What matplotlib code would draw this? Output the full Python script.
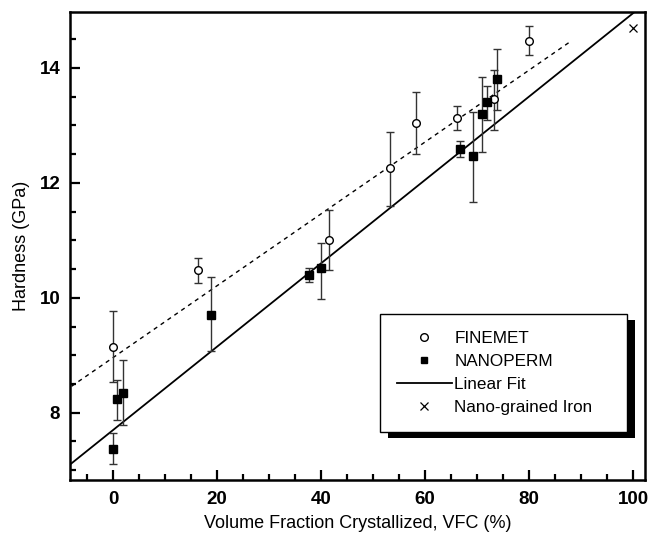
import matplotlib
matplotlib.use("Agg")
import matplotlib.pyplot as plt
import matplotlib.patheffects as pe
from matplotlib.ticker import MultipleLocator

plt.rcParams["font.family"] = ["Liberation Sans", "DejaVu Sans"]

# FINEMET (open circles): VFC %, hardness, error bar low / high
fin_x = [0, 16.3, 41.5, 53.3, 58.2, 66.1, 73.3, 79.9]
fin_y = [9.15, 10.49, 11.0, 12.26, 13.04, 13.12, 13.46, 14.47]
fin_lo = [8.53, 10.26, 10.49, 11.60, 12.50, 12.92, 12.92, 14.23]
fin_hi = [9.77, 10.70, 11.52, 12.89, 13.58, 13.33, 13.97, 14.72]

# NANOPERM (filled squares)
nano_x = [0, 0.7, 1.9, 18.8, 37.6, 40.0, 66.7, 69.2, 71.0, 72.0, 73.8]
nano_y = [7.37, 8.24, 8.35, 9.70, 10.40, 10.52, 12.59, 12.47, 13.19, 13.40, 13.80]
nano_lo = [7.11, 7.88, 7.79, 9.08, 10.27, 9.98, 12.45, 11.67, 12.54, 13.10, 13.27]
nano_hi = [7.65, 8.57, 8.91, 10.36, 10.52, 10.95, 12.72, 13.24, 13.84, 13.69, 14.33]

# nano-grained iron
iron_x = [100]
iron_y = [14.69]

# linear fits (slope, intercept) and their x ranges
fit_all = (0.0725, 7.70)
fit_all_range = (-8.5, 102)
fit_fin = (0.0625, 8.96)
fit_fin_range = (-8.0, 88.0)


def err(y, lo, hi):
    return [[a - b for a, b in zip(y, lo)], [c - a for a, c in zip(y, hi)]]


fig = plt.figure(figsize=(6.51, 5.36), dpi=100)
ax = fig.add_axes([0.1075, 0.1045, 0.8833, 0.873])

# fit lines
xs = list(fit_fin_range)
ax.plot(xs, [fit_fin[0] * x + fit_fin[1] for x in xs], color="black",
        lw=1.0, ls=(0, (3, 3)), zorder=2)
xs = list(fit_all_range)
ax.plot(xs, [fit_all[0] * x + fit_all[1] for x in xs], color="black",
        lw=1.3, zorder=2)

ax.errorbar(fin_x, fin_y, yerr=err(fin_y, fin_lo, fin_hi), fmt="o",
            mfc="white", mec="black", mew=1.0, ms=5.5, ecolor="#333333",
            elinewidth=1.0, capsize=3, capthick=1.0, zorder=3)
ax.errorbar(nano_x, nano_y, yerr=err(nano_y, nano_lo, nano_hi), fmt="s",
            mfc="black", mec="black", ms=5.5, ecolor="#333333",
            elinewidth=1.0, capsize=3, capthick=1.0, zorder=3)
ax.plot(iron_x, iron_y, "x", color="black", ms=6, mew=0.9, zorder=3)

# legend handles
h_fin, = ax.plot([], [], "o", mfc="white", mec="black", ms=5.5, label="FINEMET")
h_nano, = ax.plot([], [], "s", color="black", ms=5, label="NANOPERM")
h_fit, = ax.plot([], [], "-", color="black", lw=1.3, label="Linear Fit")
h_iron, = ax.plot([], [], "x", color="black", ms=6, mew=0.9,
                  label="Nano-grained Iron")
leg = ax.legend(handles=[h_fin, h_nano, h_fit, h_iron], loc="lower left",
                bbox_to_anchor=(0.539, 0.1026, 0.4296, 0.25), mode="expand",
                fontsize=12.3, fancybox=False, framealpha=1, edgecolor="black",
                handlelength=3.2, handletextpad=0.15, borderpad=1.0,
                borderaxespad=0, labelspacing=0.46)
leg.get_frame().set_linewidth(1.0)
leg.get_frame().set_path_effects([
    pe.SimplePatchShadow(offset=(5.5, -4.5), shadow_rgbFace="black", alpha=1),
    pe.Normal()])

ax.set_xlim(-8.3, 102.3)
ax.set_ylim(6.83, 14.97)
ax.xaxis.set_major_locator(MultipleLocator(20))
ax.xaxis.set_minor_locator(MultipleLocator(5))
ax.yaxis.set_major_locator(MultipleLocator(2))
ax.yaxis.set_minor_locator(MultipleLocator(0.5))
ax.tick_params(which="both", direction="in", width=1.6, top=False, right=False)
ax.tick_params(which="major", length=7, labelsize=13.5)
ax.tick_params(axis="x", which="major", pad=8)
ax.tick_params(axis="y", which="major", pad=7)
ax.tick_params(which="minor", length=4)
for lab in ax.get_xticklabels() + ax.get_yticklabels():
    lab.set_fontweight("bold")
for s in ax.spines.values():
    s.set_linewidth(1.8)

ax.set_xlabel("Volume Fraction Crystallized, VFC (%)", fontsize=13, labelpad=5)
ax.set_ylabel("Hardness (GPa)", fontsize=13, labelpad=7)

fig.savefig("out.png", dpi=100)
